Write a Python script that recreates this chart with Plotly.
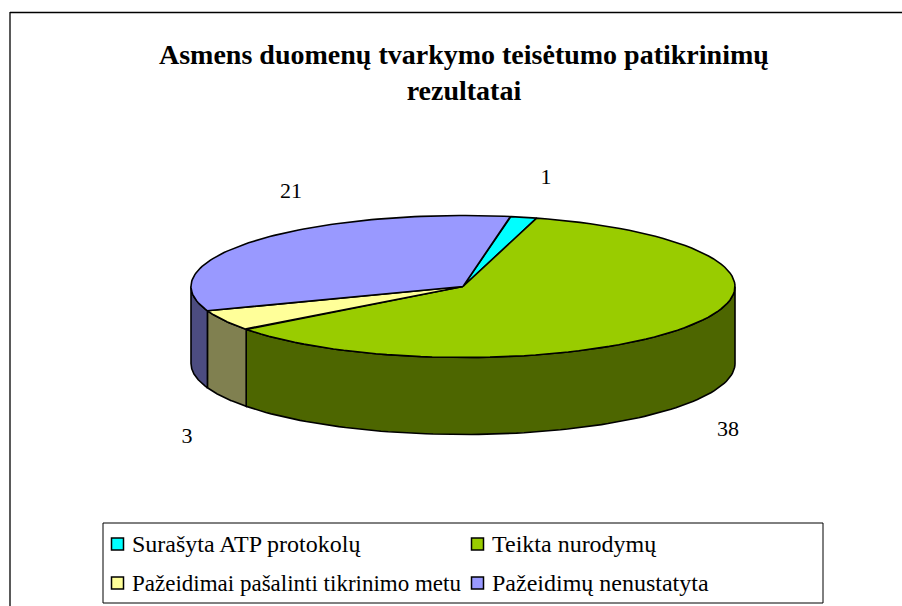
import numpy as np
import plotly.graph_objects as go

TITLE = "<b>Asmens duomenų tvarkymo teisėtumo patikrinimų<br>rezultatai</b>"
categories = ["Surašyta ATP protokolų", "Teikta nurodymų", "Pažeidimai pašalinti tikrinimo metu", "Pažeidimų nenustatyta"]
values = [1, 38, 3, 21]
top_colors = ["#00FFFF", "#99CC00", "#FFFF99", "#9999FF"]
side_colors = ["#008080", "#4D6600", "#808050", "#4C4C80"]

W, H = 902, 606
CX, CY, RX, RY, DEPTH = 463, 286.5, 272, 71, 77
START_DEG = 10.0
LW = 1.6
FONT = "Liberation Serif, Times New Roman, serif"

label_pos = [(546, 178), (728, 430), (187, 437), (291, 192)]
legend_x = [117.5, 477.5, 117.5, 477.5]
legend_y = [544, 544, 583, 583]
legend_font = [24, 24, 23, 24]


def rim(a0, a1, n=90):
    t = np.radians(np.linspace(a0, a1, n))
    return CX + RX * np.sin(t), CY - RY * np.cos(t)


fig = go.Figure()
fracs = np.array(values, float) / sum(values) * 360
edges = START_DEG + np.concatenate([[0], np.cumsum(fracs)])

for i in range(len(values)):
    a0, a1 = max(edges[i], 90), min(edges[i + 1], 270)
    if a1 <= a0:
        continue
    x, y = rim(a0, a1)
    px = np.concatenate([x, x[::-1], x[:1]])
    py = np.concatenate([y, y[::-1] + DEPTH, y[:1]])
    fig.add_trace(go.Scatter(x=px, y=py, mode="lines", fill="toself", fillcolor=side_colors[i],
                             line=dict(color="black", width=LW), hoverinfo="skip", showlegend=False))

for i in range(len(values)):
    x, y = rim(edges[i], edges[i + 1])
    px = np.concatenate([[CX], x, [CX]])
    py = np.concatenate([[CY], y, [CY]])
    fig.add_trace(go.Scatter(x=px, y=py, mode="lines", fill="toself", fillcolor=top_colors[i],
                             line=dict(color="black", width=LW), hoverinfo="skip", showlegend=False))

fig.add_trace(go.Scatter(x=[p[0] for p in label_pos], y=[p[1] for p in label_pos], mode="text",
                         text=[str(v) for v in values], textposition="middle center",
                         textfont=dict(family=FONT, size=22, color="black"),
                         hoverinfo="skip", showlegend=False))

fig.add_trace(go.Scatter(x=legend_x, y=legend_y, mode="markers",
                         marker=dict(symbol="square", size=12, color=top_colors,
                                     line=dict(color="black", width=1.5)),
                         hoverinfo="skip", showlegend=False))
for lx, ly, name, fs in zip(legend_x, legend_y, categories, legend_font):
    fig.add_annotation(x=lx + 12.5, y=ly, text=name, showarrow=False, xanchor="left", yanchor="middle",
                       font=dict(family=FONT, size=fs, color="black"))

shapes = [
    dict(type="rect", x0=103, x1=823, y0=523, y1=603, line=dict(color="black", width=1), fillcolor="white", layer="below"),
    dict(type="line", x0=10, x1=902, y0=12.5, y1=12.5, line=dict(color="black", width=1.3), layer="below"),
    dict(type="line", x0=10, x1=10, y0=12, y1=606, line=dict(color="black", width=1.3), layer="below"),
]

fig.add_annotation(x=464, y=72, text=TITLE, showarrow=False, xanchor="center", yanchor="middle",
                   align="center", font=dict(family=FONT, size=28, color="black"))

fig.update_layout(
    width=W, height=H, margin=dict(l=0, r=0, t=0, b=0), paper_bgcolor="white", plot_bgcolor="white",
    xaxis=dict(range=[0, W], visible=False, fixedrange=True),
    yaxis=dict(range=[H, 0], visible=False, fixedrange=True),
    shapes=shapes, showlegend=False,
)
fig.write_html("out.html", config={"displayModeBar": False},
               post_script="document.body.style.margin='0';")
